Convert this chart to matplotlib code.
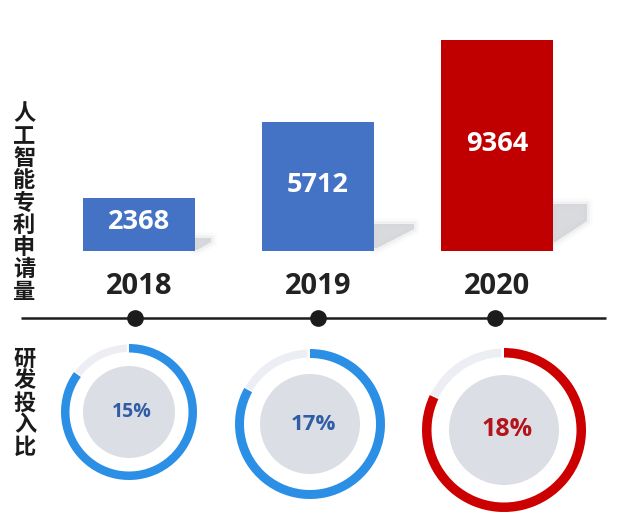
import matplotlib
matplotlib.use("Agg")
import matplotlib.pyplot as plt
from matplotlib.patches import Wedge, Circle, Polygon

# ---- data ----
years = ["2018", "2019", "2020"]
patents = [2368, 5712, 9364]
ratio_labels = ["15%", "17%", "18%"]
ring_fill = [0.85, 0.83, 0.82]          # decorative arc share
bar_colors = ["#4472c4", "#4472c4", "#c00000"]
ring_colors = ["#2b8fe6", "#2b8fe6", "#cc0000"]
text_colors = ["#2f5ea6", "#2f5ea6", "#b3131b"]
left_title1 = "人工智能专利申请量"
left_title2 = "研发投入比"

W, H = 641, 522
fig = plt.figure(figsize=(W / 100, H / 100), dpi=100)
fig.patch.set_facecolor("white")

ov = fig.add_axes([0, 0, 1, 1])
ov.set_xlim(0, W)
ov.set_ylim(0, H)
ov.axis("off")
ov.set_zorder(1)

base_px = 251
unit_px = 0.02253
ymax = 10000
ax = fig.add_axes([49.5 / W, (H - base_px) / H, 537 / W, ymax * unit_px / H])
ax.set_xlim(-0.5, 2.5)
ax.set_ylim(0, ymax)
ax.axis("off")
ax.set_zorder(2)
ax.patch.set_visible(False)
px2u = 1 / unit_px

num_font = ["Open Sans", "DejaVu Sans"]
cjk_font = ["Noto Sans CJK SC", "DejaVu Sans"]

xs = list(range(len(years)))
bars = ax.bar(xs, patents, width=0.626, color=bar_colors, zorder=3)

# shadows (pixel offsets relative to bar bottom-right corner)
shadow_shapes = [
    [(0, 13), (16, 13), (16, 9), (2, 1), (0, 1)],
    [(0, 27), (40, 27), (40, 22), (3, 3), (0, 3)],
    [(0, 47), (34, 47), (34, 30), (2, 9), (0, 9)],
]
for b, shape in zip(bars, shadow_shapes):
    xr, yb = ax.transData.transform((b.get_x() + b.get_width(), 0))
    pts = [(xr + dx, yb + dy) for dx, dy in shape]
    for lw, a in [(8, 0.10), (4, 0.2)]:
        ov.add_patch(Polygon(pts, closed=True, facecolor="none",
                             edgecolor="#cfd1d6", lw=lw, alpha=a, joinstyle="round"))
    ov.add_patch(Polygon(pts, closed=True, facecolor="#cfd1d6", edgecolor="none", alpha=0.8))

for i, v in enumerate(patents):
    ax.text(i, v / 2 + 2 * px2u, f"{v}", ha="center", va="center", color="white",
            fontsize=19.5, fontweight="bold", family=num_font, zorder=4)
    ax.text(i, -35 * px2u, years[i], ha="center", va="center", color="#222222",
            fontsize=21, fontweight="bold", family=num_font, clip_on=False)

# timeline
line_y = H - 318
ov.plot([21, 606], [line_y, line_y], color="#1c1c1c", lw=1.8, solid_capstyle="butt")
dot_shift = [-4, 0, -2]
for i in xs:
    xc, _ = ax.transData.transform((i, 0))
    ov.plot([xc + dot_shift[i]], [line_y], "o", color="#1c1c1c", markersize=11)

# rings
centers = [(129, 412), (310, 424), (504, 430)]
outer_r = [68, 75, 82]
inner_r = [46, 50, 55]
ring_w = [8.5, 9, 9.5]
text_sizes = [14, 16, 18]
for i in xs:
    cx, cy = centers[i][0], H - centers[i][1]
    gap = 360 * (1 - ring_fill[i])
    ov.add_patch(Wedge((cx, cy), outer_r[i] - 0.5, 90 + 2, 90 + gap - 1,
                       width=ring_w[i] - 1, facecolor="#eceef3", edgecolor="none"))
    ov.add_patch(Wedge((cx, cy), outer_r[i], 90 + gap, 450,
                       width=ring_w[i], facecolor=ring_colors[i], edgecolor="none"))
    ov.add_patch(Circle((cx, cy), inner_r[i], facecolor="#dcdee6", edgecolor="none"))
    ov.text(cx + 3, cy, ratio_labels[i], ha="center", va="center", color=text_colors[i],
            fontsize=text_sizes[i], fontweight="bold", family=num_font)

# left vertical titles
for k, ch in enumerate(left_title1):
    ov.text(24, H - (114 + k * 22.25), ch, ha="center", va="center", color="#1a1a1a",
            fontsize=16, fontweight="heavy", family=cjk_font)
for k, ch in enumerate(left_title2):
    ov.text(25, H - (359 + k * 22), ch, ha="center", va="center", color="#1a1a1a",
            fontsize=16, fontweight="heavy", family=cjk_font)

fig.savefig("out.png", dpi=100, facecolor="white")
